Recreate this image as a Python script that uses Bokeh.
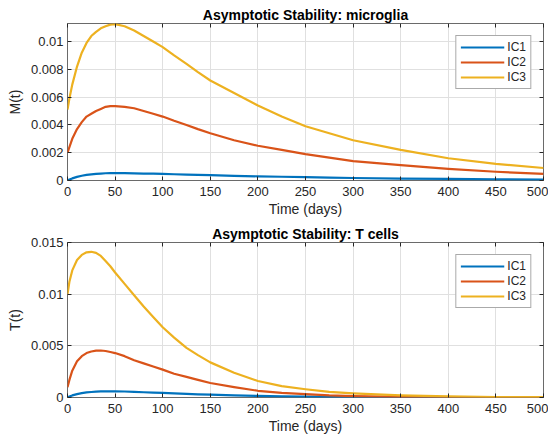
from bokeh.plotting import figure
from bokeh.layouts import column
from bokeh.models import Range1d, FixedTicker, LinearAxis, Legend, LegendItem
from bokeh.embed import file_html
from bokeh.resources import INLINE

# ---------------- data ----------------
t_days = [0, 2, 5, 10, 15, 20, 25, 30, 35, 40, 45, 50, 60, 70, 80, 90, 100, 112,
          125, 137, 150, 175, 200, 225, 250, 275, 300, 350, 400, 450, 500]

m_ic1 = [0.00002, 0.00007, 0.00015, 0.00026, 0.00034, 0.00040, 0.00044, 0.00048,
         0.00050, 0.00052, 0.00053, 0.00053, 0.00053, 0.00052, 0.00050, 0.00049,
         0.00047, 0.00045, 0.00043, 0.00041, 0.00039, 0.00034, 0.00030, 0.00027,
         0.00024, 0.00021, 0.00018, 0.00014, 0.00011, 0.00008, 0.00006]
m_ic2 = [0.0020, 0.0024, 0.0030, 0.0037, 0.0042, 0.0046, 0.0048, 0.0050,
         0.00515, 0.0053, 0.00535, 0.00535, 0.0053, 0.0052, 0.0050, 0.0048,
         0.0046, 0.0043, 0.0040, 0.0037, 0.0034, 0.0029, 0.0025, 0.0022,
         0.0019, 0.00165, 0.0014, 0.0011, 0.00083, 0.00063, 0.00048]
m_ic3 = [0.0051, 0.0059, 0.0069, 0.0082, 0.0092, 0.0099, 0.0104, 0.0107,
         0.01095, 0.0111, 0.01122, 0.01125, 0.0111, 0.0108, 0.0104, 0.0100,
         0.0096, 0.0090, 0.0084, 0.0078, 0.0072, 0.0063, 0.0054, 0.0046,
         0.0039, 0.0034, 0.0029, 0.0022, 0.0016, 0.0012, 0.0009]

t_ic1 = [0.0, 0.0001, 0.0002, 0.00033, 0.00042, 0.00049, 0.00053, 0.00057,
         0.00059, 0.0006, 0.0006, 0.0006, 0.00058, 0.00055, 0.00051, 0.00048,
         0.00044, 0.0004, 0.00035, 0.00031, 0.00027, 0.0002, 0.00015, 0.00011,
         0.00008, 0.00006, 0.00004, 0.00002, 0.00001, 0.000005, 0.000003]
t_ic2 = [0.0010, 0.0017, 0.0026, 0.0035, 0.0040, 0.0043, 0.00445, 0.00453,
         0.00455, 0.0045, 0.0044, 0.0043, 0.0040, 0.0036, 0.0033, 0.0030,
         0.0027, 0.0023, 0.0020, 0.0017, 0.0014, 0.0010, 0.00065, 0.00045,
         0.00032, 0.0002, 0.00014, 0.00006, 0.00003, 0.00001, 0.000005]
t_ic3 = [0.0100, 0.0112, 0.0123, 0.0133, 0.0138, 0.01405, 0.0141, 0.0140,
         0.0137, 0.0132, 0.0127, 0.0121, 0.0110, 0.0099, 0.0088, 0.0078,
         0.0068, 0.0058, 0.0048, 0.0041, 0.0034, 0.0024, 0.0016, 0.0011,
         0.0008, 0.00055, 0.0004, 0.0002, 0.0001, 0.00005, 0.00003]

series_names = ["IC1", "IC2", "IC3"]
series_colors = ["#0072BD", "#D95319", "#EDB120"]

x_ticks = [0, 50, 100, 150, 200, 250, 300, 350, 400, 450, 500]
x_tick_labels = ["0", "50", "100", "150", "200", "250", "300", "350", "400", "450", "500"]
m_y_ticks = [0, 0.002, 0.004, 0.006, 0.008, 0.01]
m_y_tick_labels = ["0", "0.002", "0.004", "0.006", "0.008", "0.01"]
t_y_ticks = [0, 0.005, 0.01, 0.015]
t_y_tick_labels = ["0", "0.005", "0.01", "0.015"]

FONT = "Liberation Sans"
TXT = "#262626"


def style_axis(ax):
    ax.axis_line_color = None
    ax.major_tick_in = 4
    ax.major_tick_out = 0
    ax.minor_tick_line_color = None
    ax.major_tick_line_color = TXT
    ax.major_label_text_font = FONT
    ax.major_label_text_font_size = "13px"
    ax.major_label_text_color = TXT
    ax.axis_label_text_font = FONT
    ax.axis_label_text_font_size = "14px"
    ax.axis_label_text_font_style = "normal"
    ax.axis_label_text_color = TXT


def make_panel(title, ylabel, ys, yticks, ylabels, ymax, height, top_border, bottom_border):
    p = figure(width=548, height=height, output_backend="svg", toolbar_location=None,
               x_range=Range1d(0, 500), y_range=Range1d(0, ymax),
               min_border_left=67, min_border_right=5,
               min_border_top=top_border, min_border_bottom=bottom_border)
    p.title.text = title
    p.title.align = "center"
    p.title.text_font = FONT
    p.title.text_font_size = "14px"
    p.title.text_font_style = "bold"
    p.title.text_color = "black"
    p.title.standoff = 2
    p.title.offset = 0

    p.xaxis.ticker = FixedTicker(ticks=x_ticks)
    p.xaxis.major_label_overrides = dict(zip(x_ticks, x_tick_labels))
    p.yaxis.ticker = FixedTicker(ticks=yticks)
    p.yaxis.major_label_overrides = dict(zip(yticks, ylabels))
    p.xaxis.axis_label = "Time (days)"
    p.yaxis.axis_label = ylabel
    style_axis(p.xaxis[0])
    style_axis(p.yaxis[0])
    p.xaxis.major_label_standoff = 6
    p.xaxis.axis_label_standoff = 2
    p.yaxis.major_label_standoff = 4
    p.yaxis.axis_label_standoff = 5

    # inward ticks on the right and top edges (box on), no labels drawn
    for loc, tks in (("right", yticks), ("above", x_ticks)):
        ax = LinearAxis(ticker=FixedTicker(ticks=tks))
        style_axis(ax)
        ax.major_label_text_font_size = "1px"
        ax.major_label_text_color = None
        ax.major_label_standoff = 0
        ax.axis_label = None
        p.add_layout(ax, loc)

    p.xgrid.ticker = FixedTicker(ticks=x_ticks)
    p.ygrid.ticker = FixedTicker(ticks=yticks)
    for g in (p.xgrid[0], p.ygrid[0]):
        g.grid_line_color = "#e0e0e0"
        g.grid_line_width = 1

    p.outline_line_color = "#6a6a6a"
    p.outline_line_width = 1
    p.background_fill_color = "white"
    p.border_fill_color = "white"

    items = []
    for name, col, y in zip(series_names, series_colors, ys):
        r = p.line(t_days, y, line_color=col, line_width=2.2, line_join="round")
        items.append(LegendItem(label=name, renderers=[r]))

    leg = Legend(items=items, location="top_right", margin=12,
                 label_text_font=FONT, label_text_font_size="12px", label_text_color=TXT,
                 glyph_width=44, glyph_height=14, label_height=14, label_standoff=3,
                 label_width=18, spacing=1, padding=4,
                 border_line_color="#555555", border_line_width=1,
                 background_fill_color="white", background_fill_alpha=1)
    p.add_layout(leg)
    return p


p1 = make_panel("Asymptotic Stability: microglia", "M(t)", [m_ic1, m_ic2, m_ic3],
                m_y_ticks, m_y_tick_labels, 0.0113, 222, 23, 42)
p2 = make_panel("Asymptotic Stability: T cells", "T(t)", [t_ic1, t_ic2, t_ic3],
                t_y_ticks, t_y_tick_labels, 0.015, 220, 20, 45)

layout = column(p1, p2, spacing=0)
open("out.html", "w").write(file_html(layout, INLINE))
